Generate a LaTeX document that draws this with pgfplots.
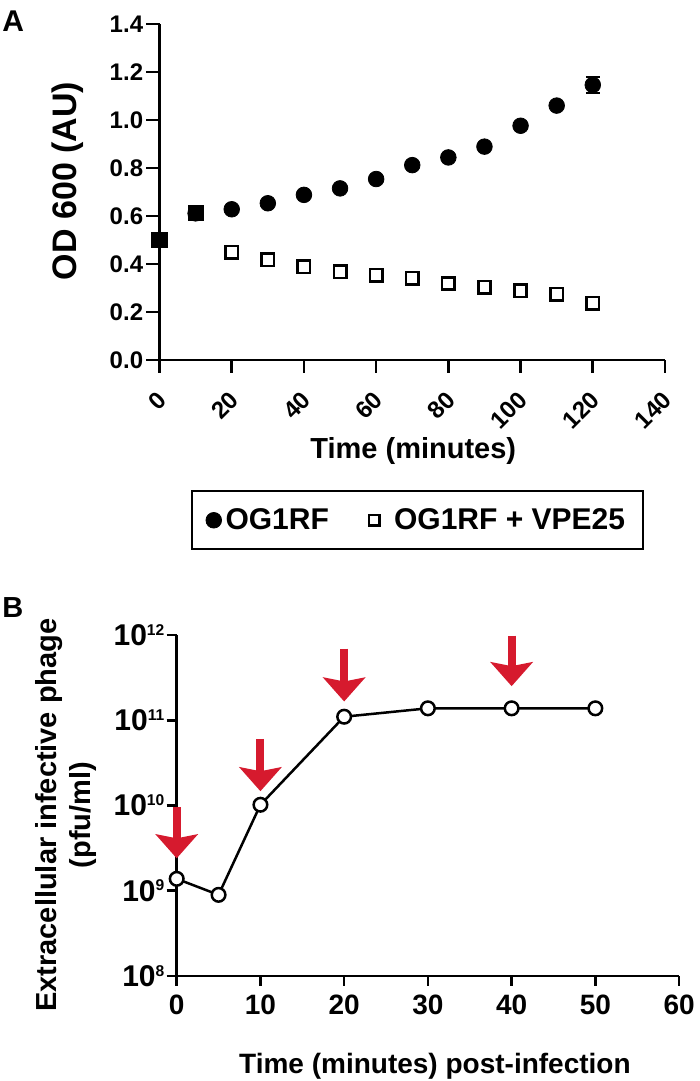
\documentclass[border=0pt]{standalone}
\usepackage{fontspec}
\setmainfont{Liberation Sans}
\usepackage{pgfplots}
\pgfplotsset{compat=1.18}
\usetikzlibrary{arrows.meta}
\definecolor{arrowred}{RGB}{214,26,46}
\pgfplotsset{
  cirlegend/.style={legend image code/.code={\draw[mark repeat=1,##1] plot coordinates {(0pt,0pt)};}},
  sqlegend/.style={legend image code/.code={\path (0pt,0pt) (7.5pt,0pt); \draw[mark repeat=1,##1,mark size=2.6pt] plot coordinates {(0pt,0pt)};}}
}

\begin{document}
\begin{tikzpicture}
\useasboundingbox (0,0) rectangle (350pt,540.5pt);
\node[anchor=base west, inner sep=0pt, font=\fontsize{15}{17}\selectfont\bfseries] at (1pt,524.5pt) {A};
\node[anchor=base west, inner sep=0pt, font=\fontsize{14.5}{17}\selectfont\bfseries] at (1pt,231.5pt) {B};

\begin{axis}[
  at={(79.75pt,360.5pt)}, anchor=south west,
  scale only axis, width=252.75pt, height=168pt,
  xmin=0, xmax=140, ymin=0, ymax=1.4,
  axis lines=left, axis line style={-, line width=1.3pt},
  xtick={0,20,40,60,80,100,120,140},
  ytick={0,0.2,0.4,0.6,0.8,1.0,1.2,1.4},
  tick align=outside, major tick length=6.5pt,
  every tick/.style={line width=1.3pt, black},
  tick label style={font=\fontsize{12}{14}\selectfont\bfseries, inner sep=1.5pt},
  /pgf/number format/assume math mode=true,
  yticklabel style={/pgf/number format/.cd, fixed, fixed zerofill, precision=1},
  xticklabel style={rotate=45, anchor=east, xshift=-5.6pt, yshift=-9pt},
  xlabel={Time (minutes)}, ylabel={OD 600 (AU)},
  xlabel style={font=\fontsize{14.5}{17}\selectfont\bfseries, at={(axis description cs:0.502,-0.2946)}, anchor=base},
  ylabel style={font=\fontsize{17}{20}\selectfont\bfseries, at={(axis description cs:-0.182,0.533)}, anchor=center},
  legend columns=2,
  legend style={at={(0.5104,-0.477)}, anchor=center, draw=black, line width=1pt,
    font=\fontsize{15}{17}\selectfont\bfseries, inner xsep=7pt, inner ysep=6.5pt,
    /tikz/every even column/.append style={column sep=18pt}},
  clip=false,
]
\addplot[cirlegend, only marks, mark=*, mark size=3.9pt, mark options={fill=black, draw=black, line width=0.4pt},
  error bars/.cd, y dir=both, y explicit,
  error bar style={line width=1.3pt, black},
  error mark options={rotate=90, mark size=3.5pt, line width=1.3pt, black}]
coordinates {
(0,0.500) (10,0.611) (20,0.628) (30,0.653) (40,0.688) (50,0.715) (60,0.754)
(70,0.812) (80,0.844) (90,0.889) (100,0.976) (110,1.060) (120,1.146) +- (0,0.033)
};
\addlegendentry{OG1RF}
\addplot[sqlegend, only marks, mark=square*, mark size=3.1pt, mark options={fill=white, draw=black, line width=1.3pt}]
coordinates {
(20,0.449) (30,0.417) (40,0.389) (50,0.368) (60,0.354) (70,0.340) (80,0.319)
(90,0.303) (100,0.289) (110,0.274) (120,0.236)
};
\addlegendentry{OG1RF + VPE25}
\addplot[forget plot, only marks, mark=square*, mark size=3.4pt, mark options={fill=black, draw=black, line width=1.3pt}]
coordinates {(0,0.500) (10,0.611)};
\end{axis}

\begin{axis}[
  at={(88.35pt,52.5pt)}, anchor=south west,
  scale only axis, width=251.2pt, height=170.5pt,
  xmin=0, xmax=60, ymode=log, log basis y=10, ymin=1e8, ymax=1e12,
  axis lines=left, axis line style={-, line width=1.3pt},
  xtick={0,10,20,30,40,50,60},
  ytick={1e8,1e9,1e10,1e11,1e12},
  yminorticks=false,
  tick align=outside, major tick length=5pt,
  every tick/.style={line width=1.3pt, black},
  xticklabel style={font=\fontsize{14}{16}\selectfont\bfseries, inner sep=2pt, yshift=-2.5pt},
  yticklabel style={font=\fontsize{15}{17}\selectfont\bfseries, inner sep=1pt},
  /pgf/number format/assume math mode=true,
  yticklabel={10\raisebox{5.2pt}{\fontsize{7.8}{9}\selectfont\pgfmathparse{int(round(\tick))}\pgfmathresult}},
  xlabel={Time (minutes) post-infection},
  ylabel={Extracellular infective phage\\(pfu/ml)},
  xlabel style={font=\fontsize{14}{17}\selectfont\bfseries, at={(axis description cs:0.514,-0.2845)}, anchor=base},
  ylabel style={font=\fontsize{14.5}{17}\selectfont\bfseries, align=center, at={(axis description cs:-0.2204,0.472)}, anchor=center},
  clip=false,
]
\addplot[black, line width=1.25pt, mark=*, mark size=3.4pt, mark options={fill=white, draw=black, line width=1.25pt, solid}]
coordinates {(0,1.38e9) (5,8.95e8) (10,1.02e10) (20,1.10e11) (30,1.38e11) (40,1.38e11) (50,1.38e11)};
\draw[arrowred, line width=4pt, -{Stealth[width=21pt, length=12pt, inset=2pt]}] (axis cs:0,9.55e9) -- (axis cs:0,2.4e9);
\draw[arrowred, line width=4pt, -{Stealth[width=21pt, length=12pt, inset=2pt]}] (axis cs:10,6.03e10) -- (axis cs:10,1.47e10);
\draw[arrowred, line width=4pt, -{Stealth[width=21pt, length=12pt, inset=2pt]}] (axis cs:20,6.92e11) -- (axis cs:20,1.66e11);
\draw[arrowred, line width=4pt, -{Stealth[width=21pt, length=12pt, inset=2pt]}] (axis cs:40,9.8e11) -- (axis cs:40,2.51e11);
\end{axis}
\end{tikzpicture}
\end{document}
